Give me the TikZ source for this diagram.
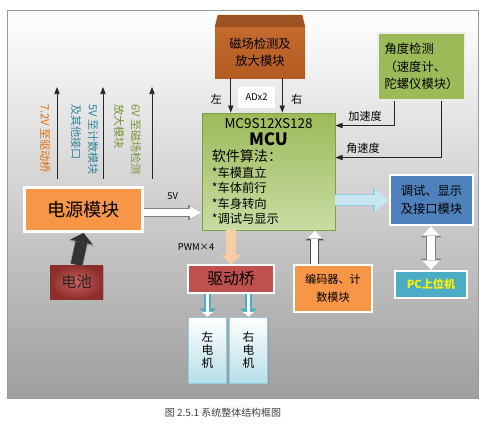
\documentclass[tikz,border=0pt]{standalone}
\usepackage{fontspec}
\setmainfont{Noto Sans CJK SC}
\usetikzlibrary{arrows.meta, positioning, calc, shadows}

\definecolor{magbrown}{HTML}{C46A2E}
\definecolor{magdark}{HTML}{B35B22}
\definecolor{magtop}{HTML}{9C5222}
\definecolor{mcutop}{HTML}{9BBB59}
\definecolor{mcubot}{HTML}{C9DCA4}
\definecolor{mculine}{HTML}{7F9F45}
\definecolor{anggreen}{HTML}{9BBB59}
\definecolor{dbgblue}{HTML}{4F81BD}
\definecolor{pccyan}{HTML}{4BACC6}
\definecolor{encorange}{HTML}{F79646}
\definecolor{drvred}{HTML}{C0504D}
\definecolor{batdark}{HTML}{8E2E2C}
\definecolor{motblue}{HTML}{B7DEE8}
\definecolor{motline}{HTML}{93CDDD}
\definecolor{txtorange}{HTML}{E46C0A}
\definecolor{txtblue}{HTML}{31859C}
\definecolor{txtgreen}{HTML}{77933C}
\definecolor{peach}{HTML}{FAC090}
\definecolor{skyfill}{HTML}{C6E7EF}

\newcommand\pxu{0.03cm}

\begin{document}
\begin{tikzpicture}[x=\pxu, y=-\pxu,
    box/.style={draw=white, line width=2pt, align=center, inner sep=1pt,
                drop shadow={opacity=0.35, shadow xshift=1.2pt, shadow yshift=-1.2pt}},
    motor/.style={draw=motline, line width=0.8pt, top color=white, bottom color=motblue,
                  minimum width=38*\pxu, minimum height=66*\pxu, align=center,
                  font=\fontsize{10}{11}\selectfont,
                  drop shadow={opacity=0.3, shadow xshift=1pt, shadow yshift=-1pt}},
    wire/.style={draw=black!85, line width=0.6pt, -{Triangle[length=6pt,width=4.5pt]}},
    lbl/.style={font=\fontsize{9.5}{14.5}\selectfont},
    fat/.style n args={8}{draw=#7, line width=#1, -{Triangle[length=#2,width=#3,line width=0pt]},
        preaction={draw=#8, line width=#4, -{Triangle[length=#5,width=#6,line width=0pt]}}},
    fatboth/.style n args={8}{draw=#7, line width=#1,
        {Triangle[length=#2,width=#3,line width=0pt]}-{Triangle[length=#2,width=#3,line width=0pt]},
        preaction={draw=#8, line width=#4,
        {Triangle[length=#5,width=#6,line width=0pt]}-{Triangle[length=#5,width=#6,line width=0pt]}}}
  ]
  \useasboundingbox (0,0) rectangle (487,439);

  % panel
  \shade[top color=white, bottom color=black!38, draw=gray!80, line width=0.8pt,
         drop shadow={opacity=0.3, shadow xshift=1pt, shadow yshift=-1pt}]
    (7,10) rectangle (478,398);

  % modules
  \node[top color=magbrown, bottom color=magdark, minimum width=90*\pxu, minimum height=51*\pxu,
        align=center, font=\fontsize{10.5}{15}\selectfont] (mag) at (260,52.5) {磁场检测及\\放大模块};
  \fill[magtop] ($(mag.north west)+(3,-12)$) -- ($(mag.north east)+(-3,-12)$)
    -- (mag.north east) -- (mag.north west) -- cycle;

  \node[draw=mculine, line width=0.8pt, top color=mcutop, bottom color=mcubot,
        minimum width=133*\pxu, minimum height=117*\pxu,
        drop shadow={opacity=0.3, shadow xshift=1pt, shadow yshift=-1pt}] (mcu) at (268.5,171.5) {};
  \node[inner sep=0pt, font=\fontsize{11.5}{12}\selectfont] (mcuname) at ($(mcu.north)+(0,11)$) {MC9S12XS128};
  \node[inner sep=0pt, font=\fontsize{14.5}{15}\selectfont\bfseries] (mcubold) at ($(mcu.north)+(0,27)$) {MCU};
  \node[anchor=north west, inner sep=0pt, align=left, font=\fontsize{10.5}{13.2}\selectfont]
    (mculist) at ($(mcu.north west)+(10,37)$)
    {{\fontsize{12}{13}\selectfont 软件算法：}\\{}*车模直立\\{}*车体前行\\{}*车身转向\\{}*调试与显示};

  \node[box, fill=anggreen, draw=white!85!gray, minimum width=87*\pxu, minimum height=67*\pxu,
        align=left, font=\fontsize{10.5}{15}\selectfont] (angle) at (421.5,66.5)
    {角度检测\\（速度计、\\陀螺仪模块）};
  \node[box, fill=dbgblue, minimum width=83*\pxu, minimum height=50*\pxu,
        font=\fontsize{10.5}{15}\selectfont] (debug) at (431.5,200) {调试、显示\\及接口模块};
  \node[box, fill=pccyan, text=yellow, minimum width=72*\pxu, minimum height=27*\pxu,
        font=\fontsize{9.5}{11}\selectfont\bfseries] (pc) at (431,284.5) {PC上位机};
  \node[box, fill=encorange, minimum width=78*\pxu, minimum height=47*\pxu,
        font=\fontsize{9.5}{15}\selectfont] (enc) at (333,288.5) {编码器、计\\数模块};
  \node[box, fill=drvred, minimum width=86*\pxu, minimum height=28*\pxu,
        font=\fontsize{13.5}{14}\selectfont] (drive) at (231,279) {驱动桥};
  \node[motor] (lmot) at (207.5,350) {左\\电\\机};
  \node[motor] (rmot) at (248.5,350) {右\\电\\机};
  \node[box, line width=2.5pt, fill=encorange, minimum width=118*\pxu, minimum height=44*\pxu,
        font=\fontsize{15.5}{16}\selectfont] (power) at (83.5,209.5) {电源模块};
  \node[inner color=drvred!90!white, outer color=batdark, minimum width=53*\pxu, minimum height=34*\pxu,
        font=\fontsize{13}{14}\selectfont, text=black!85,
        drop shadow={opacity=0.35, shadow xshift=1.2pt, shadow yshift=-1.2pt}] (batt) at (76.5,282) {电池};

  % magnetic -> MCU
  \coordinate (adl) at ($(mag.south west)+(16,0)$);
  \coordinate (adr) at ($(mag.south east)+(-23,0)$);
  \draw[wire] (adl) -- (adl |- mcu.north) node[pos=0.62, left=4pt, lbl] {左};
  \draw[wire] (adr) -- (adr |- mcu.north) node[pos=0.62, right=4pt, lbl] {右};
  \node[fill=white, minimum width=37*\pxu, minimum height=21*\pxu, inner sep=0pt,
        font=\fontsize{8}{9}\selectfont] (adx) at ($(adl)!0.5!(adr)+(0,19)$) {ADx2};

  % angle -> MCU
  \coordinate (acc) at ($(angle.south west)+(18,0)$);
  \coordinate (gyr) at ($(angle.south east)+(-25,0)$);
  \draw[wire] (acc) |- ($(mcu.north east)+(0,13)$) node[pos=0.75, above, lbl] {加速度};
  \draw[wire] (gyr) |- ($(mcu.north east)+(0,45)$) node[pos=0.87, above, lbl] {角速度};

  % supply lines
  \coordinate (v72) at (57,87);
  \coordinate (v5) at (103,87);
  \coordinate (v6) at (152,87);
  \draw[wire, shorten <=6pt] (power.north -| v72) -- (v72);
  \draw[wire, shorten <=6pt] (power.north -| v5) -- (v5);
  \draw[wire, shorten <=6pt] (power.north -| v6) -- (v6);
  \node[lbl, rotate=-90, anchor=west, text=txtorange] (l72) at (45,100) {7.2V 至驱动桥};
  \node[lbl, rotate=-90, anchor=west, align=left, text=txtblue] (l5) at (84.5,100)
    {5V 至计数模块\\及其他接口};
  \node[lbl, rotate=-90, anchor=west, align=left, text=txtgreen] (l6) at (127.5,100)
    {6V 至磁场检测\\放大模块};

  % block arrows
  \coordinate (p5) at ($(power.east)+(0,3)$);
  \draw[fat={6pt}{10pt}{11pt}{7.6pt}{11.5pt}{13.5pt}{white}{gray}] (p5) -- (p5 -| mcu.west)
    node[midway, above=5pt, font=\fontsize{8}{9}\selectfont] {5V};
  \draw[fat={10pt}{8pt}{20pt}{11.4pt}{9.5pt}{22.5pt}{black!80}{gray!70}] (batt.north) -- (power.south);
  \draw[fat={8pt}{7pt}{16pt}{9pt}{8pt}{17.5pt}{peach!80!white}{peach}] (drive.north |- mcu.south) -- (drive.north)
    node[midway, left=7pt, font=\fontsize{8}{9}\selectfont] {PWM×4};
  \draw[fat={9pt}{12pt}{20pt}{10.4pt}{13.5pt}{22.5pt}{skyfill}{motline}] (debug.west -| mcu.east) -- (debug.west);
  \coordinate (encup) at ($(enc.north west)+(22,0)$);
  \draw[fat={6pt}{7pt}{13pt}{7.6pt}{8.5pt}{15.5pt}{white}{black!70}] (encup) -- (encup |- mcu.south);
  \draw[fatboth={7pt}{8pt}{15pt}{8.4pt}{9.5pt}{17.5pt}{white}{gray}] (pc.north) -- (pc.north |- debug.south);
  \draw[fat={3pt}{4pt}{10pt}{6pt}{7pt}{14pt}{white}{pccyan}] (lmot.north |- drive.south) -- (lmot.north);
  \draw[fat={3pt}{4pt}{10pt}{6pt}{7pt}{14pt}{white}{pccyan}] (rmot.north |- drive.south) -- (rmot.north);

  % caption
  \node[font=\fontsize{8.5}{10}\selectfont, text=black!75] (cap) at (223,413) {图 2.5.1 系统整体结构框图};
\end{tikzpicture}
\end{document}
